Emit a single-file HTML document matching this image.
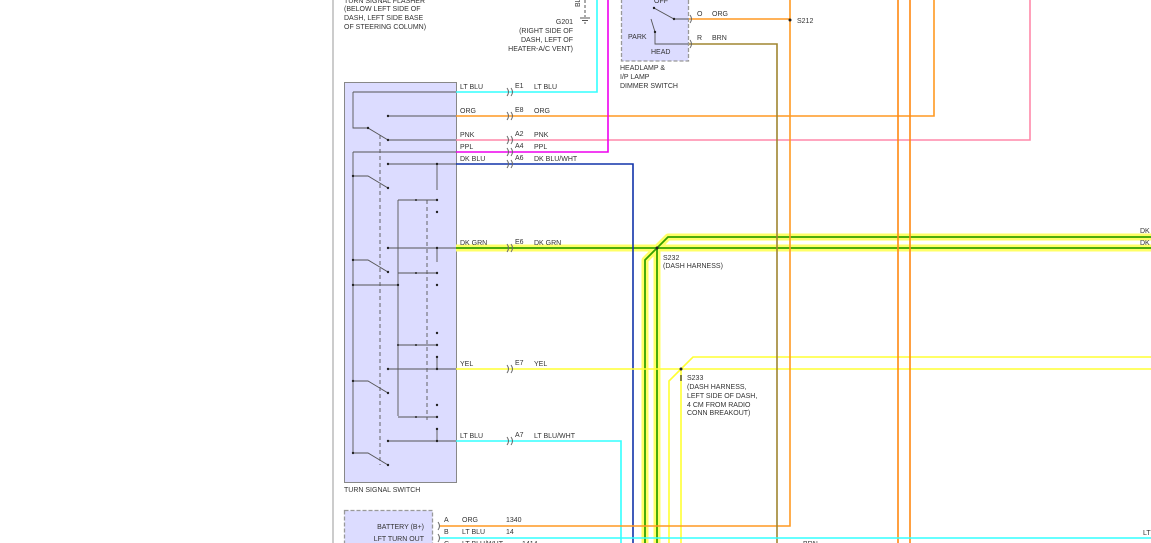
<!DOCTYPE html>
<html><head><meta charset="utf-8"><style>
html,body{margin:0;padding:0;background:#fff;}
svg{display:block;}
text{font-family:"Liberation Sans",sans-serif;font-size:7px;fill:#333;}
</style></head><body>
<svg width="1151" height="543" viewBox="0 0 1151 543" xmlns="http://www.w3.org/2000/svg">
<rect width="1151" height="543" fill="#fff"/>
<line x1="333" y1="0" x2="333" y2="543" stroke="#999" stroke-width="1"/>

<rect x="344.5" y="82.5" width="112" height="400" fill="#dcdcff" stroke="#888" stroke-width="1"/>
<rect x="621.5" y="-5" width="67" height="66" fill="#dcdcff" stroke="#999" stroke-width="1.3" stroke-dasharray="4,2"/>
<rect x="344.5" y="510.5" width="88" height="40" fill="#dcdcff" stroke="#999" stroke-width="1.3" stroke-dasharray="4,2"/>

<g fill="none" stroke="#ffff66" stroke-width="7" stroke-linejoin="round">
<path d="M456 248 H1151"/>
<path d="M657 248 L668 237 H1151"/>
<path d="M657 248 L645 260 V543"/>
<path d="M657 248 V543"/>
</g>
<g fill="none" stroke="#33a000" stroke-width="1.8">
<path d="M456 248 H1151"/>
<path d="M657 248 L668 237 H1151"/>
<path d="M657 248 L645 260 V543"/>
<path d="M657 248 V543"/>
</g>

<g fill="none" stroke-width="1.6">
<path d="M456 92 H597 V0" stroke="#33ffff"/>
<path d="M456 116 H934 V0" stroke="#ff9922"/>
<path d="M456 140 H1030 V0" stroke="#ff88aa"/>
<path d="M456 152 H608 V0" stroke="#ee00ee"/>
<path d="M456 164 H633 V543" stroke="#1133aa"/>
<path d="M456 369 H1151" stroke="#ffff33"/>
<path d="M681 369 L693 357 H1151" stroke="#ffff33"/>
<path d="M681 369 V543" stroke="#ffff33"/>
<path d="M681 369 L669 381 V543" stroke="#ffff33"/>
<path d="M456 441 H621 V543" stroke="#33ffff"/>
<path d="M689 19 H790" stroke="#ff9922"/>
<path d="M790 0 V526 H440" stroke="#ff9922"/>
<path d="M689 44 H777 V543" stroke="#a08530"/>
<path d="M898 0 V543" stroke="#ff8811"/>
<path d="M910 0 V543" stroke="#ff8811"/>
<path d="M440 538 H1151" stroke="#33ffff"/>
</g>
<line x1="681" y1="375" x2="681" y2="381" stroke="#000" stroke-width="1"/>

<g fill="none" stroke="#666" stroke-width="1">
<path d="M507 88 q3 4 0 8 M511 88 q3 4 0 8"/>
<path d="M507 112 q3 4 0 8 M511 112 q3 4 0 8"/>
<path d="M507 136 q3 4 0 8 M511 136 q3 4 0 8"/>
<path d="M507 148 q3 4 0 8 M511 148 q3 4 0 8"/>
<path d="M507 160 q3 4 0 8 M511 160 q3 4 0 8"/>
<path d="M507 244 q3 4 0 8 M511 244 q3 4 0 8"/>
<path d="M507 365 q3 4 0 8 M511 365 q3 4 0 8"/>
<path d="M507 437 q3 4 0 8 M511 437 q3 4 0 8"/>
<path d="M690 15 q3 4 0 8 M690 40 q3 4 0 8"/>
<path d="M438 522 q3 4 0 8 M438 534 q3 4 0 8"/>
</g>

<line x1="585" y1="0" x2="585" y2="17" stroke="#555" stroke-dasharray="3,2"/>
<line x1="580" y1="18" x2="590" y2="18" stroke="#555"/>
<line x1="582" y1="20.5" x2="588" y2="20.5" stroke="#555"/>
<line x1="584" y1="23" x2="586" y2="23" stroke="#555"/>
<text x="580" y="7" transform="rotate(-90 580 7)" font-size="6">BL</text>

<g stroke="#555" stroke-width="0.9" fill="none">
<path d="M353 92 H456"/>
<path d="M353 92 V128 H368 L388 140"/>
<path d="M388 116 H456"/>
<path d="M388 140 H456"/>
<path d="M353 152 H456"/>
<path d="M353 152 V453"/>
<path d="M388 164 H456"/>
<path d="M437 164 V190"/>
<path d="M353 176 H368 L388 188"/>
<path d="M398 200 V416"/>
<path d="M398 200 H437"/>
<path d="M388 248 H456"/>
<path d="M437 248 V262"/>
<path d="M353 260 H368 L388 272"/>
<path d="M398 273 H437"/>
<path d="M353 285 H398"/>
<path d="M398 345 H437"/>
<path d="M388 369 H456"/>
<path d="M437 357 V369"/>
<path d="M353 381 H368 L388 393"/>
<path d="M398 417 H437"/>
<path d="M388 441 H456"/>
<path d="M437 429 V441"/>
<path d="M353 453 H368 L388 465"/>
<path d="M380 135 V465" stroke-dasharray="4,3"/>
<path d="M427 200 V420" stroke-dasharray="4,3"/>
<path d="M654 8 L674 19 H688"/>
<path d="M651 19 L655 32 V44 H688"/>
</g>
<g fill="#222">
<circle cx="388" cy="116" r="1.2"/><circle cx="388" cy="140" r="1.2"/><circle cx="368" cy="128" r="1.2"/>
<circle cx="388" cy="164" r="1.2"/><circle cx="437" cy="164" r="1.2"/><circle cx="388" cy="188" r="1.2"/><circle cx="353" cy="176" r="1.2"/>
<circle cx="437" cy="200" r="1.2"/><circle cx="437" cy="212" r="1.2"/><circle cx="416" cy="200" r="1"/>
<circle cx="388" cy="248" r="1.2"/><circle cx="437" cy="248" r="1.2"/><circle cx="353" cy="260" r="1.2"/><circle cx="388" cy="272" r="1.2"/>
<circle cx="437" cy="273" r="1.2"/><circle cx="437" cy="285" r="1.2"/><circle cx="398" cy="285" r="1.2"/><circle cx="353" cy="285" r="1.2"/><circle cx="416" cy="273" r="1"/>
<circle cx="437" cy="333" r="1.2"/><circle cx="437" cy="345" r="1.2"/><circle cx="437" cy="357" r="1.2"/><circle cx="416" cy="345" r="1"/><circle cx="398" cy="345" r="1"/>
<circle cx="388" cy="369" r="1.2"/><circle cx="437" cy="369" r="1.2"/><circle cx="353" cy="381" r="1.2"/><circle cx="388" cy="393" r="1.2"/>
<circle cx="437" cy="405" r="1.2"/><circle cx="437" cy="417" r="1.2"/><circle cx="416" cy="417" r="1"/>
<circle cx="388" cy="441" r="1.2"/><circle cx="437" cy="441" r="1.2"/><circle cx="437" cy="429" r="1.2"/><circle cx="353" cy="453" r="1.2"/><circle cx="388" cy="465" r="1.2"/>
<circle cx="657" cy="248" r="1.5"/><circle cx="681" cy="369" r="1.5"/><circle cx="790" cy="20" r="1.5"/>
<circle cx="654" cy="8" r="1.2"/><circle cx="674" cy="19" r="1.2"/><circle cx="655" cy="32" r="1.2"/>
</g>

<text x="344" y="3">TURN SIGNAL FLASHER</text>
<text x="344" y="11">(BELOW LEFT SIDE OF</text>
<text x="344" y="20">DASH, LEFT SIDE BASE</text>
<text x="344" y="29">OF STEERING COLUMN)</text>
<text x="573" y="24" text-anchor="end">G201</text>
<text x="573" y="33" text-anchor="end">(RIGHT SIDE OF</text>
<text x="573" y="42" text-anchor="end">DASH, LEFT OF</text>
<text x="573" y="51" text-anchor="end">HEATER-A/C VENT)</text>
<text x="654" y="3">OFF</text>
<text x="628" y="39">PARK</text>
<text x="651" y="54">HEAD</text>
<text x="620" y="70">HEADLAMP &amp;</text>
<text x="620" y="79">I/P LAMP</text>
<text x="620" y="88">DIMMER SWITCH</text>
<text x="697" y="16">O</text><text x="712" y="16">ORG</text>
<text x="697" y="40">R</text><text x="712" y="40">BRN</text>
<text x="797" y="23">S212</text>

<text x="460" y="89">LT BLU</text><text x="515" y="88">E1</text><text x="534" y="89">LT BLU</text>
<text x="460" y="113">ORG</text><text x="515" y="112">E8</text><text x="534" y="113">ORG</text>
<text x="460" y="137">PNK</text><text x="515" y="136">A2</text><text x="534" y="137">PNK</text>
<text x="460" y="149">PPL</text><text x="515" y="148">A4</text><text x="534" y="149">PPL</text>
<text x="460" y="161">DK BLU</text><text x="515" y="160">A6</text><text x="534" y="161">DK BLU/WHT</text>
<text x="460" y="245">DK GRN</text><text x="515" y="244">E6</text><text x="534" y="245">DK GRN</text>
<text x="460" y="366">YEL</text><text x="515" y="365">E7</text><text x="534" y="366">YEL</text>
<text x="460" y="438">LT BLU</text><text x="515" y="437">A7</text><text x="534" y="438">LT BLU/WHT</text>
<text x="663" y="260">S232</text>
<text x="663" y="268">(DASH HARNESS)</text>
<text x="687" y="380">S233</text>
<text x="687" y="389">(DASH HARNESS,</text>
<text x="687" y="398">LEFT SIDE OF DASH,</text>
<text x="687" y="407">4 CM FROM RADIO</text>
<text x="687" y="415">CONN BREAKOUT)</text>
<text x="1140" y="233">DK</text>
<text x="1140" y="245">DK</text>
<text x="344" y="492">TURN SIGNAL SWITCH</text>
<text x="424" y="529" text-anchor="end">BATTERY (B+)</text>
<text x="424" y="541" text-anchor="end">LFT TURN OUT</text>
<text x="444" y="522">A</text><text x="462" y="522">ORG</text><text x="506" y="522">1340</text>
<text x="444" y="534">B</text><text x="462" y="534">LT BLU</text><text x="506" y="534">14</text>
<text x="444" y="546">C</text><text x="462" y="546">LT BLU/WHT</text><text x="522" y="546">1414</text>
<text x="1143" y="535">LT</text>
<text x="803" y="546">BRN</text>
</svg>
</body></html>
